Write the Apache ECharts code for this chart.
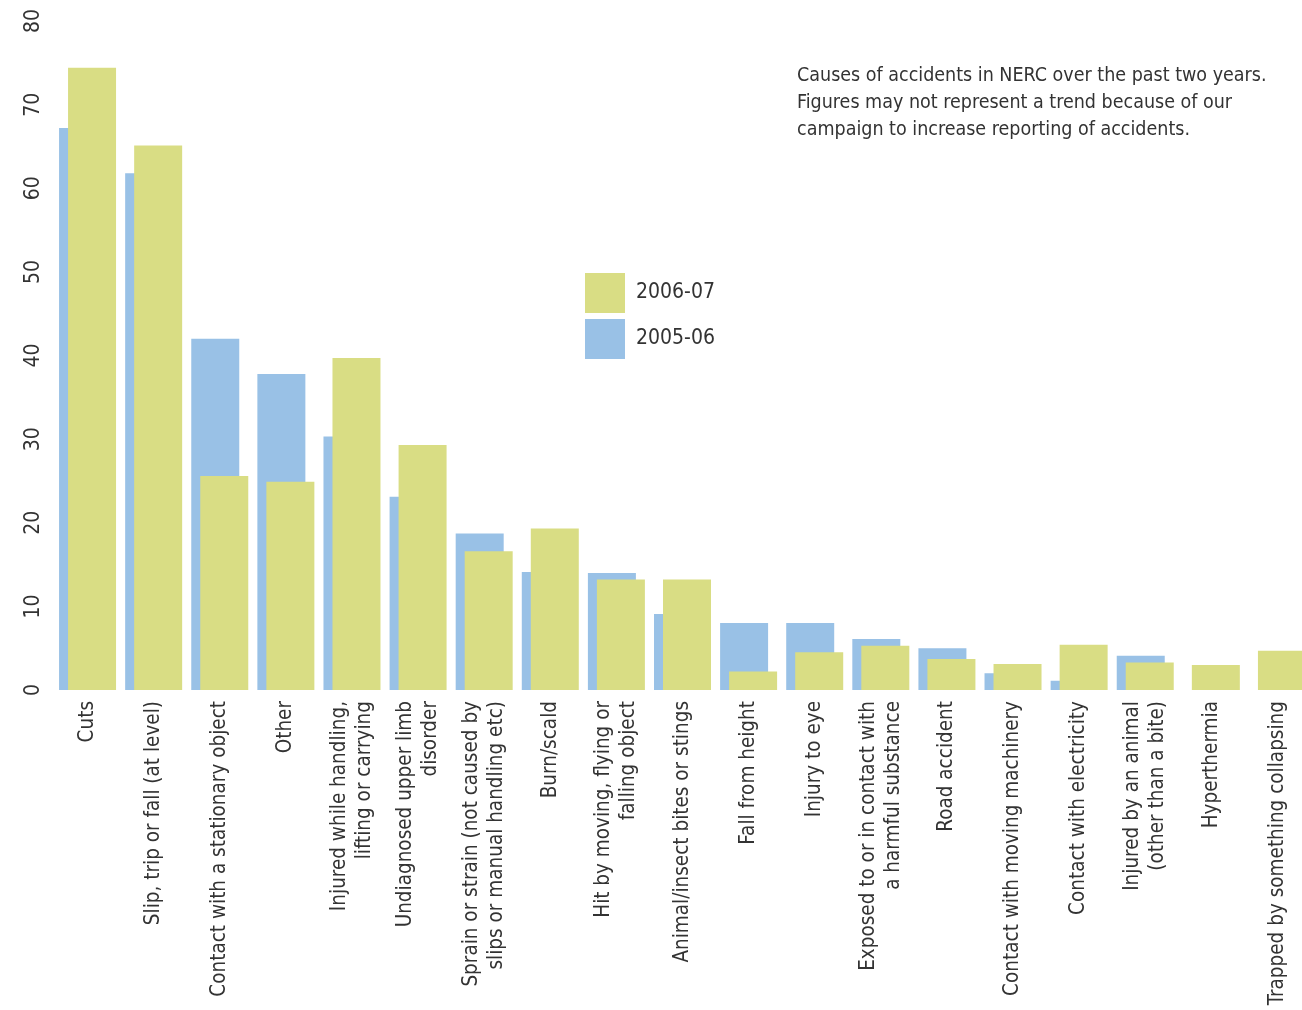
<!DOCTYPE html>
<html>
<head>
<meta charset="utf-8">
<title>Causes of accidents in NERC</title>
<script src="https://cdn.jsdelivr.net/npm/echarts@6/dist/echarts.min.js"></script>
<style>
  html, body { margin: 0; padding: 0; background: #fff; overflow: hidden; }
  #chart { width: 1302px; height: 1010px; }
</style>
</head>
<body>
<div id="chart"></div>
<script>
// categories (x axis)
var categories = [
  "Cuts",
  "Slip, trip or fall (at level)",
  "Contact with a stationary object",
  "Other",
  "Injured while handling,\nlifting or carrying",
  "Undiagnosed upper limb\ndisorder",
  "Sprain or strain (not caused by\nslips or manual handling etc)",
  "Burn/scald",
  "Hit by moving, flying or\nfalling object",
  "Animal/insect bites or stings",
  "Fall from height",
  "Injury to eye",
  "Exposed to or in contact with\na harmful substance",
  "Road accident",
  "Contact with moving machinery",
  "Contact with electricity",
  "Injured by an animal\n(other than a bite)",
  "Hyperthermia",
  "Trapped by something collapsing"
];

// 2005-06 (blue, behind)
var values0506 = [67.2, 61.8, 42.0, 37.8, 30.3, 23.1, 18.7, 14.1, 14.0, 9.1, 8.0, 8.0, 6.1, 5.0, 2.0, 1.1, 4.1, 0, 0];
// 2006-07 (green, in front)
var values0607 = [74.4, 65.1, 25.6, 24.9, 39.7, 29.3, 16.6, 19.3, 13.2, 13.2, 2.2, 4.5, 5.3, 3.7, 3.1, 5.4, 3.3, 3.0, 4.7];

var yTicks = { min: 0, max: 80, interval: 10 };

var note = [
  "Causes of accidents in NERC over the past two years.",
  "Figures may not represent a trend because of our",
  "campaign to increase reporting of accidents."
];

var FONT = '"Liberation Sans Narrow", "DejaVu Sans Condensed", "Roboto", sans-serif';
var TEXT = "#333333";
var BLUE = "#99c1e6";
var GREEN = "#d9dd84";

var chart = echarts.init(document.getElementById("chart"));

var option = {
  backgroundColor: "#ffffff",
  animation: false,
  textStyle: { fontFamily: FONT },
  grid: {
    left: 54.5,
    width: 1256,
    top: 21,
    height: 669,
    containLabel: false,
    outerBoundsMode: "none" // v6 otherwise squeezes the grid so labels fit
  },
  legend: {
    orient: "vertical",
    left: 585,
    top: 273,
    icon: "rect",
    itemWidth: 40,
    itemHeight: 40,
    itemGap: 6,
    padding: 0,
    selectedMode: false,
    data: ["2006-07", "2005-06"],
    textStyle: {
      fontFamily: FONT,
      fontSize: 21,
      color: TEXT,
      padding: [0, 0, 0, 6]
    }
  },
  xAxis: {
    type: "category",
    data: categories,
    axisLine: { show: false },
    axisTick: { show: false },
    splitLine: { show: false },
    axisLabel: {
      interval: 0,
      rotate: 90,
      margin: 11,
      fontFamily: FONT,
      fontSize: 20.5,
      lineHeight: 25,
      color: TEXT
    }
  },
  yAxis: {
    type: "value",
    min: yTicks.min,
    max: yTicks.max,
    interval: yTicks.interval,
    axisLine: { show: false },
    axisTick: { show: false },
    splitLine: { show: false },
    axisLabel: {
      rotate: 90,
      margin: 10,
      fontFamily: FONT,
      fontSize: 21,
      color: TEXT
    }
  },
  series: [
    {
      name: "2005-06",
      type: "bar",
      data: values0506,
      barWidth: 48,
      barGap: "-81.25%",
      itemStyle: { color: BLUE },
      z: 1
    },
    {
      name: "2006-07",
      type: "bar",
      data: values0607,
      barWidth: 48,
      itemStyle: { color: GREEN },
      z: 2
    }
  ],
  graphic: [
    {
      type: "text",
      left: 797,
      top: 62,
      style: {
        text: note.join("\n"),
        fontFamily: FONT,
        fontSize: 19.5,
        lineHeight: 27,
        fill: TEXT
      }
    }
  ]
};

chart.setOption(option);
</script>
</body>
</html>
